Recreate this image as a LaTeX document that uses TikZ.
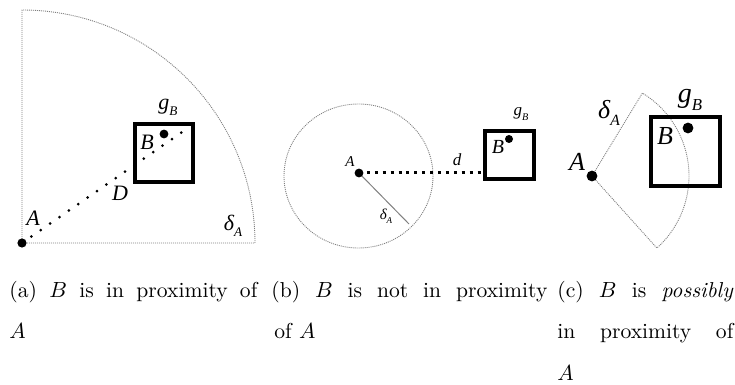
\documentclass[tikz,border=0pt]{standalone}
\usepackage{fontspec}
\usepackage{graphicx}
\newfontfamily\tms{Liberation Serif}
\newcommand{\lbl}[2]{#1\raisebox{-0.28em}{\scalebox{0.6}{#2}}}
\tikzset{
  x=0.5pt, y=-0.5pt,
  zone/.style={draw=gray, line width=0.45pt, dash pattern=on 0.5pt off 0.5pt},
  rad/.style={draw=gray, line width=0.5pt},
  sqbox/.style={draw, line width=#1, fill=none, inner sep=0pt},
  dotpt/.style={circle, fill=black, inner sep=0pt, minimum size=#1},
  lab/.style={inner sep=0pt, font=\tms\itshape\fontsize{#1}{#1}\selectfont},
  dotsA/.style={line width=1.5pt, line cap=round, dash pattern=on 0pt off 5.7pt},
  dotsB/.style={line width=1.5pt, dash pattern=on 1.5pt off 2.45pt},
  captxt/.style={anchor=base west, inner sep=0pt, font=\fontsize{10.8}{13}\selectfont},
}
\begin{document}
\begin{tikzpicture}
\useasboundingbox (0,0) rectangle (735,385);

% ---------- (a)
\coordinate (Aa) at (22,243);
\draw[zone] (Aa) -- ++(0,-233) arc[start angle=-90, end angle=0, radius=233] -- cycle;
\node[sqbox=1.6pt, minimum width=29pt, minimum height=29pt] (Ba) at (164,153) {};
\coordinate (Da) at (188,128);
\draw[dotsA] (Aa) -- (Da);
\node[dotpt=4.6pt] (Aad) at (Aa) {};
\node[dotpt=4.4pt] (ga) at (164,134) {};
\node[lab=11] (la) at (33,218) {A};
\node[lab=11] (ld) at (120,193) {D};
\node[lab=11] (lb) at (147,142) {B};
\node[lab=11] (lg) at (168,107) {\lbl{g}{B}};
\node[lab=11] (ldel) at (233,226) {\lbl{δ}{A}};

% ---------- (b)
\coordinate (Ab) at (359,173);
\draw[zone] (358.5,176) ellipse [x radius=74.5, y radius=72];
\coordinate (Rb) at (409,224);
\draw[rad] (Ab) -- (Rb);
\node[sqbox=1.6pt, minimum width=24.5pt, minimum height=24pt] (Bb) at (509.5,155) {};
\draw[dotsB] (Ab) -- (Bb.west |- Ab);
\node[dotpt=4.4pt] (Abd) at (Ab) {};
\node[dotpt=4pt] (gb) at (509,139) {};
\node[lab=7.5] (lab) at (350,162) {A};
\node[lab=8.5] (ldb) at (457,160) {d};
\node[lab=7.5] (ldelb) at (386,216) {\lbl{δ}{A}};
\node[lab=10] (lbb) at (498,147) {B};
\node[lab=8.5] (lgb) at (521,114) {\lbl{g}{B}};

% ---------- (c)
\coordinate (Ac) at (592,176);
\draw[zone] (Ac) -- ++(50.4,-82.9) arc[start angle=-58.7, end angle=48, radius=97] -- cycle;
\node[sqbox=2pt, minimum width=34.5pt, minimum height=34.5pt] (Bc) at (685.5,151.5) {};
\node[dotpt=5.4pt] (Acd) at (Ac) {};
\node[dotpt=5.4pt] (gc) at (688,128) {};
\node[lab=13] (lac) at (577,162) {A};
\node[lab=13] (ldelc) at (609,113) {\lbl{δ}{A}};
\node[lab=13] (lbc) at (665,136) {B};
\node[lab=14] (lgc) at (690,100) {\lbl{g}{B}};

% ---------- captions
\node[captxt] (ca1) at (9,298) {\makebox[124pt][s]{(a) $B$ is in proximity of}};
\node[captxt] (ca2) at (9,339) {$A$};
\node[captxt] (cb1) at (271,298) {\makebox[138pt][s]{(b) $B$ is not in proximity}};
\node[captxt] (cb2) at (274,339) {of $A$};
\node[captxt] (cc1) at (557,298) {\makebox[88pt][s]{(c) $B$ is \emph{possibly}}};
\node[captxt] (cc2) at (557,339) {\makebox[88pt][s]{in proximity of}};
\node[captxt] (cc3) at (557,380) {$A$};
\end{tikzpicture}
\end{document}
